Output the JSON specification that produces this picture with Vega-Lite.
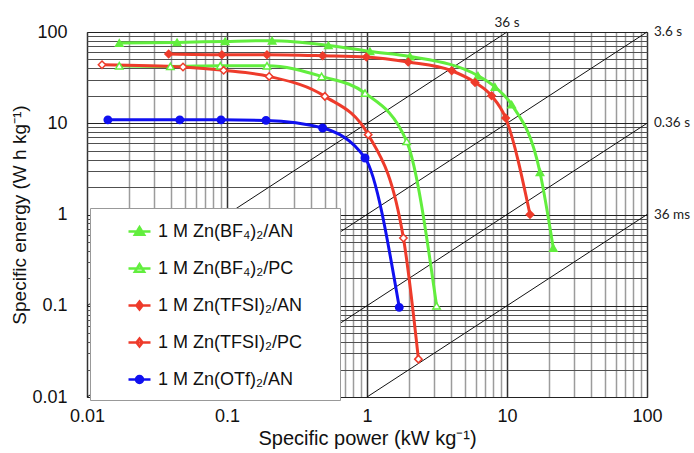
{
  "$schema": "https://vega.github.io/schema/vega-lite/v6.json",
  "width": 560,
  "height": 365,
  "autosize": {"type": "none"},
  "padding": {"left": 87, "top": 32, "right": 47, "bottom": 56},
  "background": "white",
  "config": {
    "view": {"stroke": "#444", "strokeWidth": 1},
    "font": "Liberation Sans"
  },
  "datasets": {
    "curves": [
      {"s": "1 M Zn(BF₄)₂/AN", "P": 0.017, "E": 75.8},
      {"s": "1 M Zn(BF₄)₂/AN", "P": 0.044, "E": 76.9},
      {"s": "1 M Zn(BF₄)₂/AN", "P": 0.097, "E": 78.9},
      {"s": "1 M Zn(BF₄)₂/AN", "P": 0.21, "E": 80.3},
      {"s": "1 M Zn(BF₄)₂/AN", "P": 0.53, "E": 71.3},
      {"s": "1 M Zn(BF₄)₂/AN", "P": 1.05, "E": 61.3},
      {"s": "1 M Zn(BF₄)₂/AN", "P": 2.03, "E": 54.0},
      {"s": "1 M Zn(BF₄)₂/AN", "P": 6.2, "E": 33.2},
      {"s": "1 M Zn(BF₄)₂/AN", "P": 8.2, "E": 25.0},
      {"s": "1 M Zn(BF₄)₂/AN", "P": 10.8, "E": 16.0},
      {"s": "1 M Zn(BF₄)₂/AN", "P": 17.2, "E": 2.9},
      {"s": "1 M Zn(BF₄)₂/AN", "P": 21.4, "E": 0.43},
      {"s": "1 M Zn(BF₄)₂/PC", "P": 0.017, "E": 42.7},
      {"s": "1 M Zn(BF₄)₂/PC", "P": 0.0394, "E": 42.0},
      {"s": "1 M Zn(BF₄)₂/PC", "P": 0.0895, "E": 42.7},
      {"s": "1 M Zn(BF₄)₂/PC", "P": 0.193, "E": 42.7},
      {"s": "1 M Zn(BF₄)₂/PC", "P": 0.474, "E": 32.6},
      {"s": "1 M Zn(BF₄)₂/PC", "P": 0.968, "E": 21.4},
      {"s": "1 M Zn(BF₄)₂/PC", "P": 1.92, "E": 6.33},
      {"s": "1 M Zn(BF₄)₂/PC", "P": 3.14, "E": 0.1},
      {"s": "1 M Zn(TFSI)₂/AN", "P": 0.0383, "E": 57.4},
      {"s": "1 M Zn(TFSI)₂/AN", "P": 0.092, "E": 56.4},
      {"s": "1 M Zn(TFSI)₂/AN", "P": 0.193, "E": 56.4},
      {"s": "1 M Zn(TFSI)₂/AN", "P": 0.482, "E": 55.0},
      {"s": "1 M Zn(TFSI)₂/AN", "P": 0.99, "E": 53.2},
      {"s": "1 M Zn(TFSI)₂/AN", "P": 1.97, "E": 46.9},
      {"s": "1 M Zn(TFSI)₂/AN", "P": 4.03, "E": 37.6},
      {"s": "1 M Zn(TFSI)₂/AN", "P": 5.91, "E": 28.0},
      {"s": "1 M Zn(TFSI)₂/AN", "P": 7.76, "E": 20.0},
      {"s": "1 M Zn(TFSI)₂/AN", "P": 9.78, "E": 11.4},
      {"s": "1 M Zn(TFSI)₂/AN", "P": 14.6, "E": 1.0},
      {"s": "1 M Zn(TFSI)₂/PC", "P": 0.0128, "E": 43.8},
      {"s": "1 M Zn(TFSI)₂/PC", "P": 0.0485, "E": 41.3},
      {"s": "1 M Zn(TFSI)₂/PC", "P": 0.0946, "E": 38.0},
      {"s": "1 M Zn(TFSI)₂/PC", "P": 0.2, "E": 32.6},
      {"s": "1 M Zn(TFSI)₂/PC", "P": 0.5, "E": 19.7},
      {"s": "1 M Zn(TFSI)₂/PC", "P": 1.02, "E": 7.5},
      {"s": "1 M Zn(TFSI)₂/PC", "P": 1.82, "E": 0.553},
      {"s": "1 M Zn(TFSI)₂/PC", "P": 2.33, "E": 0.026},
      {"s": "1 M Zn(OTf)₂/AN", "P": 0.0141, "E": 10.9},
      {"s": "1 M Zn(OTf)₂/AN", "P": 0.046, "E": 10.9},
      {"s": "1 M Zn(OTf)₂/AN", "P": 0.0906, "E": 10.9},
      {"s": "1 M Zn(OTf)₂/AN", "P": 0.19, "E": 10.75},
      {"s": "1 M Zn(OTf)₂/AN", "P": 0.482, "E": 8.87},
      {"s": "1 M Zn(OTf)₂/AN", "P": 0.968, "E": 4.16},
      {"s": "1 M Zn(OTf)₂/AN", "P": 1.7, "E": 0.096}
    ],
    "timeLines": [
      {"t": "36 s", "P": 0.01, "E": 0.1},
      {"t": "36 s", "P": 10, "E": 100},
      {"t": "3.6 s", "P": 0.01, "E": 0.01},
      {"t": "3.6 s", "P": 100, "E": 100},
      {"t": "0.36 s", "P": 0.1, "E": 0.01},
      {"t": "0.36 s", "P": 100, "E": 10},
      {"t": "36 ms", "P": 1, "E": 0.01},
      {"t": "36 ms", "P": 100, "E": 1}
    ]
  },
  "encoding": {
    "x": {
      "field": "P",
      "type": "quantitative",
      "scale": {"type": "log", "domain": [0.01, 100], "nice": false},
      "axis": {
        "values": [0.01, 0.02, 0.03, 0.04, 0.05, 0.06, 0.07, 0.08, 0.09, 0.1, 0.2, 0.3, 0.4, 0.5, 0.6, 0.7, 0.8, 0.9, 1, 2, 3, 4, 5, 6, 7, 8, 9, 10, 20, 30, 40, 50, 60, 70, 80, 90, 100],
        "grid": true,
        "gridColor": {"condition": {"test": "abs(log(datum.value)/LN10 - round(log(datum.value)/LN10)) < 0.001", "value": "#333333"}, "value": "#9c9c9c"},
        "gridWidth": 1.5,
        "ticks": false,
        "domain": false,
        "labelExpr": "abs(log(datum.value)/LN10 - round(log(datum.value)/LN10)) < 0.001 ? format(datum.value, '~g') : ''",
        "labelOverlap": false,
        "labelFlush": false,
        "labelFontSize": 18,
        "labelColor": "#111111",
        "labelPadding": 10,
        "title": "Specific power (kW kg⁻¹)",
        "titleFontSize": 20,
        "titleFontWeight": "normal",
        "titleColor": "#111111",
        "titlePadding": 3
      }
    },
    "y": {
      "field": "E",
      "type": "quantitative",
      "scale": {"type": "log", "domain": [0.01, 100], "nice": false},
      "axis": {
        "values": [0.01, 0.02, 0.03, 0.04, 0.05, 0.06, 0.07, 0.08, 0.09, 0.1, 0.2, 0.3, 0.4, 0.5, 0.6, 0.7, 0.8, 0.9, 1, 2, 3, 4, 5, 6, 7, 8, 9, 10, 20, 30, 40, 50, 60, 70, 80, 90, 100],
        "grid": true,
        "gridColor": {"condition": {"test": "abs(log(datum.value)/LN10 - round(log(datum.value)/LN10)) < 0.001", "value": "#222222"}, "value": "#505050"},
        "gridWidth": 1,
        "ticks": false,
        "domain": false,
        "labelExpr": "abs(log(datum.value)/LN10 - round(log(datum.value)/LN10)) < 0.001 ? format(datum.value, '~g') : ''",
        "labelOverlap": false,
        "labelFlush": false,
        "labelFontSize": 18,
        "labelColor": "#111111",
        "labelPadding": 20,
        "title": "Specific energy (W h kg⁻¹)",
        "titleFontSize": 19,
        "titleFontWeight": "normal",
        "titleColor": "#111111",
        "titlePadding": 2
      }
    }
  },
  "layer": [
    {
      "data": {"name": "timeLines"},
      "mark": {"type": "line", "color": "#111111", "strokeWidth": 1},
      "encoding": {"detail": {"field": "t", "type": "nominal"}}
    },
    {
      "data": {"name": "curves"},
      "mark": {"type": "point", "opacity": 0},
      "encoding": {
        "stroke": {
          "field": "s",
          "type": "nominal",
          "scale": {
            "domain": ["1 M Zn(BF₄)₂/AN", "1 M Zn(BF₄)₂/PC", "1 M Zn(TFSI)₂/AN", "1 M Zn(TFSI)₂/PC", "1 M Zn(OTf)₂/AN"],
            "range": ["#62EE3E", "#62EE3E", "#EE3B2B", "#EE3B2B", "#1010F0"]
          }
        },
        "fill": {
          "field": "s",
          "type": "nominal",
          "scale": {
            "domain": ["1 M Zn(BF₄)₂/AN", "1 M Zn(BF₄)₂/PC", "1 M Zn(TFSI)₂/AN", "1 M Zn(TFSI)₂/PC", "1 M Zn(OTf)₂/AN"],
            "range": ["#62EE3E", "#ffffff", "#EE3B2B", "#ffffff", "#1010F0"]
          }
        },
        "shape": {
          "field": "s",
          "type": "nominal",
          "scale": {
            "domain": ["1 M Zn(BF₄)₂/AN", "1 M Zn(BF₄)₂/PC", "1 M Zn(TFSI)₂/AN", "1 M Zn(TFSI)₂/PC", "1 M Zn(OTf)₂/AN"],
            "range": [
              "M-1,0H1M0,-0.4L0.42,0.3L-0.42,0.3Z",
              "M-1,0H1M0,-0.4L0.42,0.3L-0.42,0.3Z",
              "M-1,0H1M0,-0.36L0.28,0L0,0.36L-0.28,0Z",
              "M-1,0H1M0,-0.36L0.28,0L0,0.36L-0.28,0Z",
              "M-1,0H1M0.32,0A0.32,0.32,0,1,1,-0.32,0A0.32,0.32,0,1,1,0.32,0Z"
            ]
          },
          "legend": {
            "title": null,
            "orient": "none",
            "legendX": 3,
            "legendY": 176,
            "fillColor": "white",
            "strokeColor": "#999999",
            "padding": 11,
            "labelFont": "Liberation Sans",
            "labelFontSize": 18,
            "labelColor": "#111111",
            "labelLimit": 400,
            "labelOffset": 6,
            "labelExpr": "datum.label + '\u2003\u2002\u200b'",
            "symbolSize": 484,
            "symbolOffset": 26,
            "symbolStrokeWidth": 2.5,
            "symbolOpacity": 1,
            "rowPadding": 15
          }
        }
      }
    },
    {
      "data": {"name": "curves"},
      "mark": {"type": "line", "strokeWidth": 3, "interpolate": "monotone"},
      "encoding": {
        "stroke": {"field": "s", "type": "nominal"}
      }
    },
    {
      "data": {"name": "curves"},
      "mark": {"type": "point", "filled": true, "strokeWidth": 1.5, "opacity": 1, "size": 55},
      "encoding": {
        "stroke": {"field": "s", "type": "nominal"},
        "fill": {"field": "s", "type": "nominal"},
        "shape": {
          "condition": [
            {"test": "indexof(datum.s, 'BF') >= 0", "value": "triangle-up"},
            {"test": "indexof(datum.s, 'TFSI') >= 0", "value": "diamond"}
          ],
          "value": "circle"
        }
      }
    },
    {
      "data": {"name": "timeLines"},
      "transform": [{"filter": "datum.t == '36 s' && datum.P == 10"}],
      "mark": {"type": "text", "font": "Lato", "fontSize": 13.5, "color": "#222222", "align": "center", "baseline": "middle", "dy": -9},
      "encoding": {"text": {"field": "t"}}
    },
    {
      "data": {"name": "timeLines"},
      "transform": [{"filter": "datum.t != '36 s' && datum.P == 100"}],
      "mark": {"type": "text", "font": "Lato", "fontSize": 13.5, "color": "#222222", "align": "left", "baseline": "middle", "dx": 7},
      "encoding": {"text": {"field": "t"}}
    }
  ]
}
